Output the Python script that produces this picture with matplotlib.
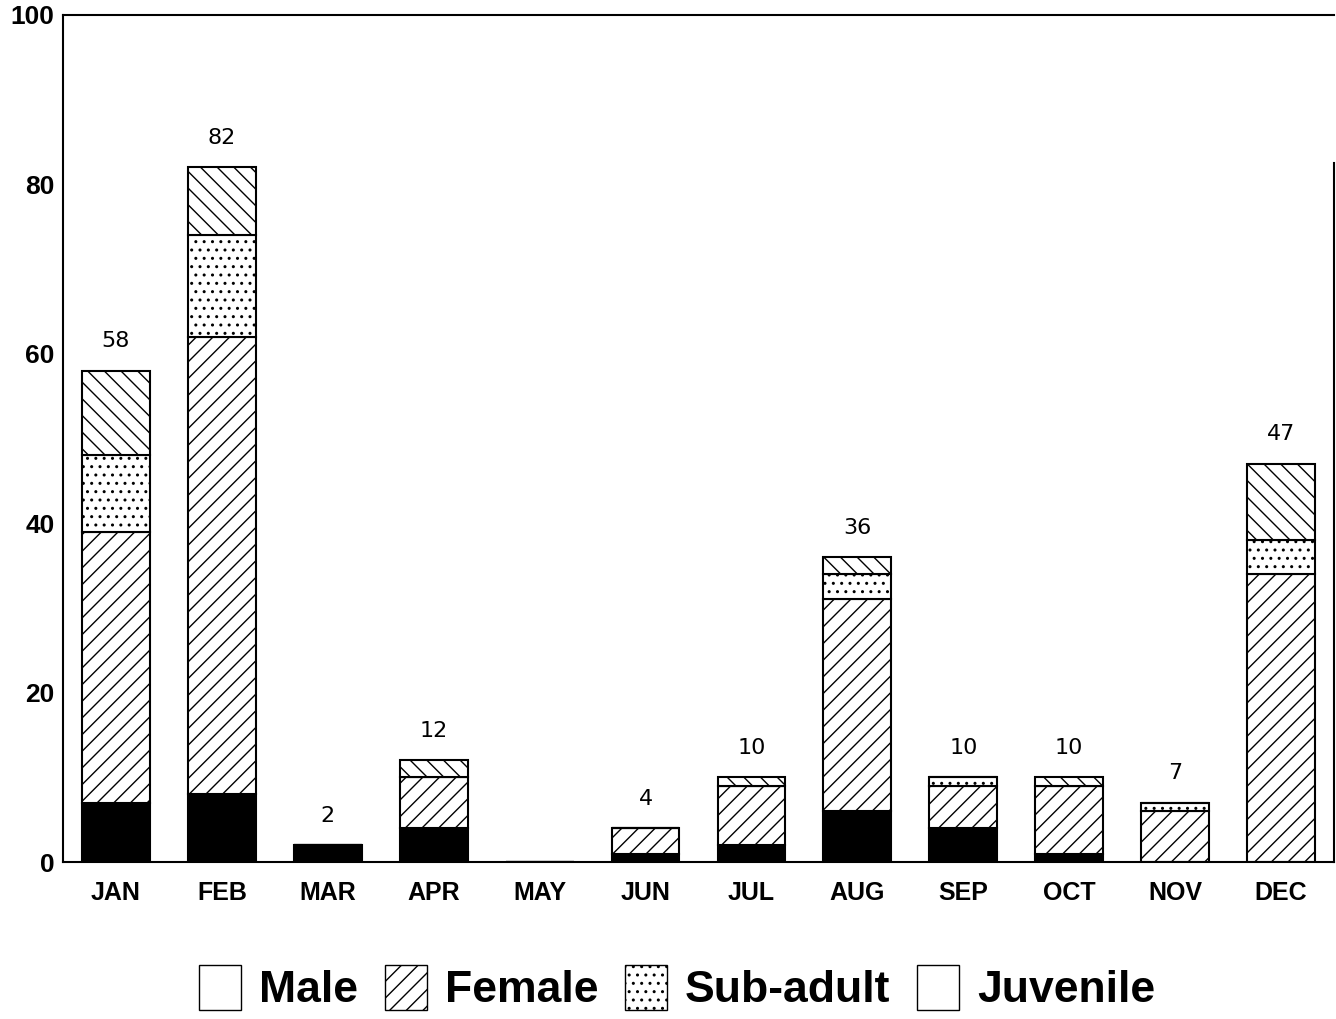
import numpy as np
import matplotlib.pyplot as plt
from matplotlib.patches import Patch

plt.rcParams['hatch.linewidth'] = 1.0
plt.rcParams['font.family'] = ['Liberation Sans', 'DejaVu Sans']

months = ['JAN', 'FEB', 'MAR', 'APR', 'MAY', 'JUN', 'JUL', 'AUG', 'SEP', 'OCT', 'NOV', 'DEC']
male = [7, 8, 2, 4, 0, 1, 2, 6, 4, 1, 0, 0]
female = [32, 54, 0, 6, 0, 3, 7, 25, 5, 8, 6, 34]
subadult = [9, 12, 0, 0, 0, 0, 0, 3, 1, 0, 1, 4]
juvenile = [10, 8, 0, 2, 0, 0, 1, 2, 0, 1, 0, 9]
totals = [58, 82, 2, 12, 0, 4, 10, 36, 10, 10, 7, 47]

fig = plt.figure(figsize=(13.36, 10.19), dpi=100)
ax = fig.add_axes([63/1336, 157/1019, 1271/1336, 847/1019])

x = np.arange(len(months))
w = 0.64
kw = dict(width=w, edgecolor='black', linewidth=1.5)
b0 = np.zeros(len(months))
ax.bar(x, male, bottom=b0, color='black', **kw)
b0 = b0 + np.array(male)
ax.bar(x, female, bottom=b0, color='white', hatch='//', **kw)
b0 = b0 + np.array(female)
ax.bar(x, subadult, bottom=b0, color='white', hatch='..', **kw)
b0 = b0 + np.array(subadult)
ax.bar(x, juvenile, bottom=b0, color='white', hatch='\\\\', **kw)

for i, t in enumerate(totals):
    if t > 0:
        ax.annotate(str(t), (x[i], t), xytext=(0, 14), textcoords='offset points',
                    ha='center', va='bottom', fontsize=16, family='DejaVu Sans')

ax.set_xlim(-0.5, 11.5)
ax.set_ylim(0, 100)
ax.set_yticks([0, 20, 40, 60, 80, 100])
ax.set_xticks(x)
ax.set_xticklabels(months, fontsize=18, fontweight='bold')
ax.tick_params(axis='y', length=0, pad=6, labelsize=19)
ax.tick_params(axis='x', length=0, pad=14)
for lab in ax.get_yticklabels():
    lab.set_fontweight('bold')
for s in ['left', 'top', 'bottom']:
    ax.spines[s].set_linewidth(1.5)
ax.spines['right'].set_linewidth(1.5)
ax.spines['right'].set_bounds(0, 82.5)

handles = [
    Patch(facecolor='white', edgecolor='black', label='Male'),
    Patch(facecolor='white', edgecolor='black', hatch='//', label='Female'),
    Patch(facecolor='white', edgecolor='black', hatch='..', label='Sub-adult'),
    Patch(facecolor='white', edgecolor='black', label='Juvenile'),
]
fig.legend(handles=handles, loc='center', bbox_to_anchor=(677/1336, 1 - 988/1019), ncol=4,
           frameon=False, handlelength=0.95, handleheight=1.2, handletextpad=0.4, columnspacing=0.6,
           prop={'weight': 'bold', 'size': 32})

fig.savefig('out.png', dpi=100)
